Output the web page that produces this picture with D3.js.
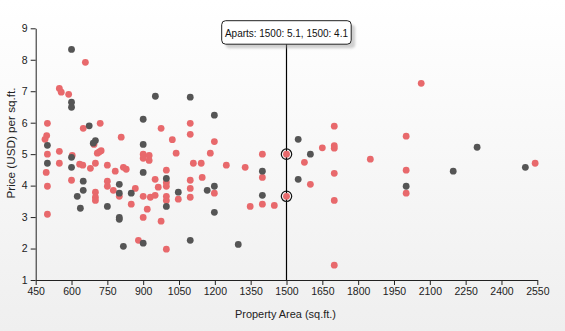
<!DOCTYPE html>
<html><head><meta charset="utf-8">
<script src="https://cdn.jsdelivr.net/npm/d3@7/dist/d3.min.js"></script>
<style>
html,body{margin:0;padding:0;}
svg{display:block;font-family:"Liberation Sans",Arial,sans-serif;}
</style></head>
<body><svg id="c" width="565" height="331"></svg>
<script>
const xTicks = [450,600,750,900,1050,1200,1350,1500,1650,1800,1950,2100,2250,2400,2550];
const yTicks = [1,2,3,4,5,6,7,8,9];
const seriesNames = ["Aparts","Houses"];
const apartsX = [658,549,557,588,499,649,720,1097,975,808,1022,1097,496,489,694,499,549,603,708,716,724,900,900,925,925,1038,1110,1143,494,549,634,647,679,700,750,783,817,829,950,997,997,997,1097,1097,499,600,700,700,700,750,750,775,800,867,850,880,900,900,917,930,950,963,975,997,997,997,1047,1097,499,1198,1700,1650,1700,1700,1181,1399,1500,1851,1248,1327,1575,1700,1147,1399,1600,1198,1500,1700,1348,1399,1449,1700,2064,2001,2001,2001,2541];
const apartsY = [7.92,7.09,6.97,6.90,5.98,5.82,5.98,5.98,5.82,5.54,5.46,5.63,5.59,5.47,5.31,5.0,5.09,4.96,5.03,5.07,5.11,5.0,4.87,4.96,4.8,5.03,4.71,4.71,4.42,4.71,4.68,4.65,4.55,4.71,4.65,4.46,4.58,4.52,4.2,4.49,4.1,3.98,4.17,3.91,3.98,4.17,3.79,3.63,3.53,4.14,3.98,3.85,3.66,3.91,3.41,2.26,3.66,2.99,3.25,3.63,3.69,3.95,2.87,3.66,3.53,1.98,3.57,3.63,3.09,5.4,5.89,5.2,5.27,5.19,5.03,5.0,5.0,4.84,4.65,4.58,4.74,4.39,4.26,4.26,4.04,3.76,3.66,3.53,3.34,3.41,3.37,1.47,7.25,5.57,4.49,3.76,4.71];
const housesX = [600,600,600,951,1097,900,674,499,700,691,900,600,499,600,900,997,649,649,624,637,800,800,750,800,800,817,850,900,997,1047,1097,1198,1549,1600,1399,1549,1198,1168,1399,1198,1298,2298,2001,2198,2500];
const housesY = [8.33,6.65,6.49,6.84,6.81,6.11,5.9,5.28,5.43,5.35,5.31,4.9,4.71,4.58,4.42,4.23,4.14,3.85,3.66,3.28,4.04,3.76,3.34,2.99,2.93,2.07,3.76,2.17,3.34,3.79,2.26,6.24,5.47,5.0,4.46,4.2,3.98,3.85,3.69,3.15,2.13,5.22,3.98,4.46,4.58];
const hoverX = 1500;
const hoverPtsY = [5.0, 3.66];
const tooltipText = "Aparts: 1500: 5.1, 1500: 4.1";
const xTitle = "Property Area (sq.ft.)";
const yTitle = "Price (USD) per sq.ft.";

const W = 565, H = 331;
const FS = "10.5px";
const svg = d3.select("#c");
const defs = svg.append("defs");
const g = defs.append("linearGradient").attr("id","bg").attr("x1",0).attr("y1",0).attr("x2",0).attr("y2",1);
g.append("stop").attr("offset","0%").attr("stop-color","#ffffff");
g.append("stop").attr("offset","100%").attr("stop-color","#efefef");
const f = defs.append("filter").attr("id","sh").attr("x","-20%").attr("y","-50%").attr("width","150%").attr("height","220%");
f.append("feGaussianBlur").attr("stdDeviation",1.2);
svg.append("rect").attr("width",W).attr("height",H).attr("fill","url(#bg)");

const x = d3.scaleLinear().domain([450,2550]).range([35.7,537.3]);
const y = d3.scaleLinear().domain([1,9]).range([280,28.3]);

const xa = svg.append("g").attr("transform","translate(0,280)")
  .call(d3.axisBottom(x).tickValues(xTicks).tickFormat(d3.format("d")).tickSize(5).tickSizeOuter(0));
const ya = svg.append("g").attr("transform","translate(35.7,0)")
  .call(d3.axisLeft(y).tickValues(yTicks).tickFormat(d3.format("d")).tickSize(5).tickSizeOuter(0));
[xa,ya].forEach(a=>{
  a.select(".domain").attr("stroke","#222");
  a.selectAll(".tick line").attr("stroke","#222");
  a.selectAll(".tick text").attr("fill","#222").style("font-size",FS).style("font-family","'Liberation Sans',Arial,sans-serif");
});
xa.selectAll(".tick text").attr("dy","0.9em").attr("y",6);
ya.selectAll(".tick text").attr("x",-8);

svg.append("text").attr("x",285.5).attr("y",318).attr("text-anchor","middle")
  .attr("textLength",101).attr("lengthAdjust","spacingAndGlyphs")
  .attr("fill","#222").style("font-size","11px").text(xTitle);
svg.append("text").attr("transform","translate(15,143) rotate(-90)").attr("text-anchor","middle")
  .attr("textLength",111).attr("lengthAdjust","spacingAndGlyphs")
  .attr("fill","#222").style("font-size","11px").text(yTitle);

const aparts = apartsX.map((v,i)=>({x:v,y:apartsY[i]}));
const houses = housesX.map((v,i)=>({x:v,y:housesY[i]}));

// hover line
svg.append("line").attr("x1",x(hoverX)).attr("x2",x(hoverX)).attr("y1",44).attr("y2",280)
  .attr("stroke","#000").attr("stroke-width",1.2);

svg.append("g").selectAll("circle").data(aparts).join("circle")
  .attr("cx",d=>x(d.x)).attr("cy",d=>y(d.y)).attr("r",3.4).attr("fill","#e8696c");
svg.append("g").selectAll("circle").data(houses).join("circle")
  .attr("cx",d=>x(d.x)).attr("cy",d=>y(d.y)).attr("r",3.4).attr("fill","#555555");

svg.append("g").selectAll("circle").data(hoverPtsY).join("circle")
  .attr("cx",x(hoverX)).attr("cy",d=>y(d)).attr("r",5.2).attr("fill","none").attr("stroke","#111").attr("stroke-width",1.2);

// tooltip
const tx = x(hoverX);
const tw = 129.5, th = 23.5, tyTop = 20.7;
const tl = tx - 64.8;
svg.append("rect").attr("x",tl+4).attr("y",tyTop+4).attr("width",tw).attr("height",th).attr("rx",4)
  .attr("fill","#999").attr("opacity",0.45).attr("filter","url(#sh)");
svg.append("rect").attr("x",tl).attr("y",tyTop).attr("width",tw).attr("height",th).attr("rx",4)
  .attr("fill","#fff").attr("stroke","#222").attr("stroke-width",1);
svg.append("text").attr("x",tl+tw/2).attr("y",tyTop+16).attr("text-anchor","middle")
  .attr("textLength",123).attr("lengthAdjust","spacingAndGlyphs")
  .attr("fill","#111").style("font-size","11px").text(tooltipText);
</script></body></html>
